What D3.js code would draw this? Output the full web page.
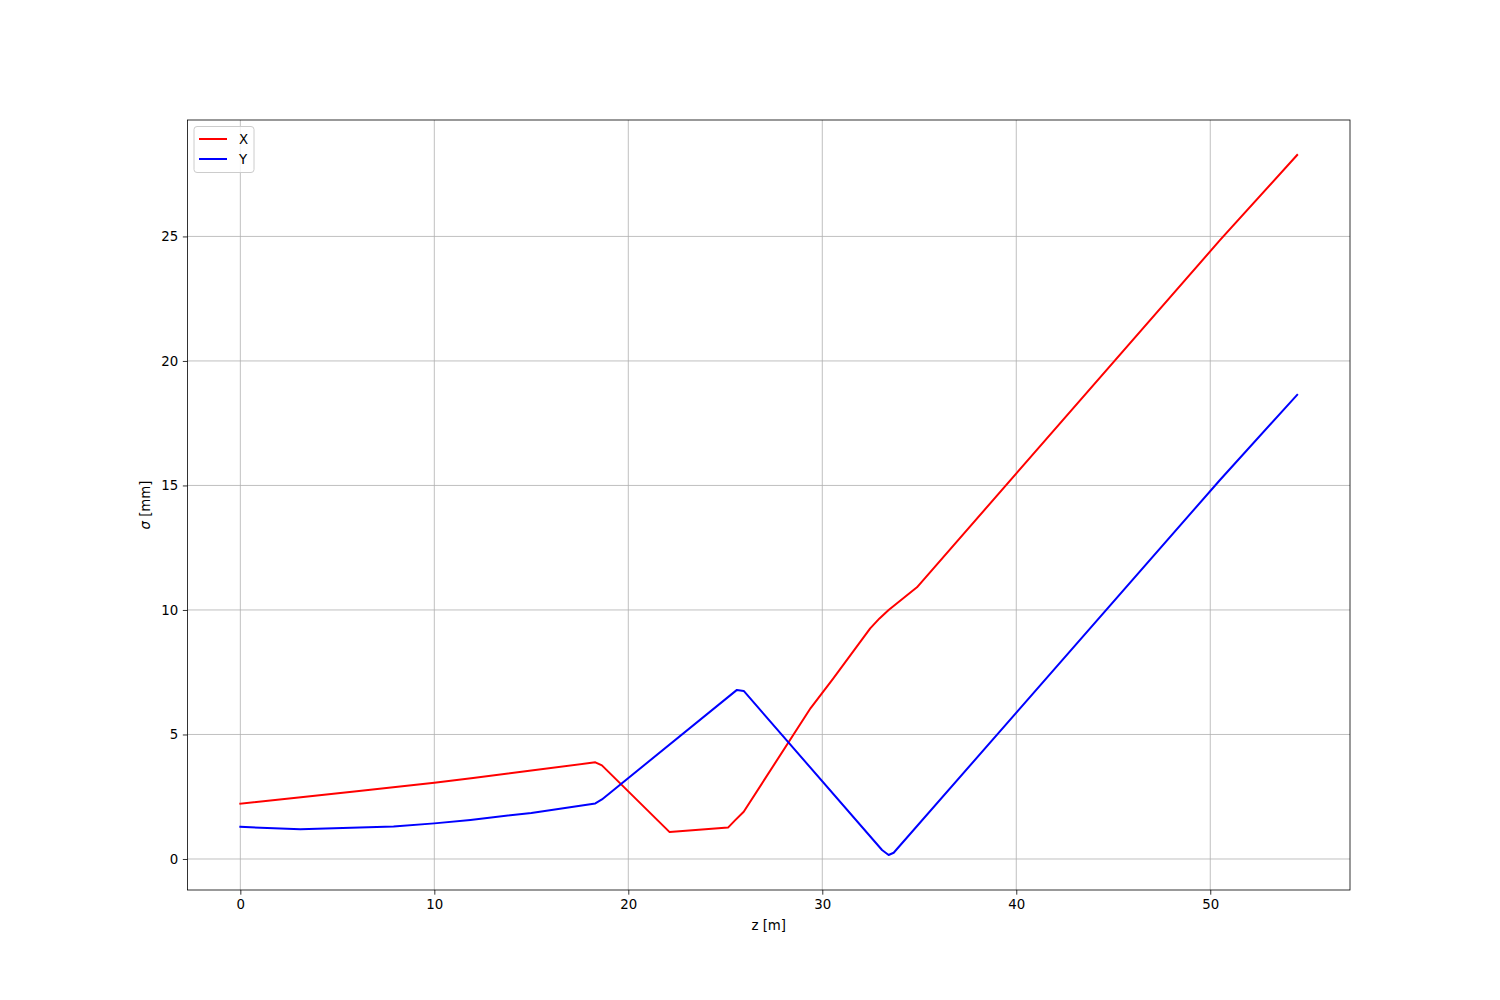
<!DOCTYPE html>
<html>
<head>
<meta charset="utf-8">
<script src="https://cdn.jsdelivr.net/npm/d3@7"></script>
<style>
  html, body { margin: 0; padding: 0; background: #fff; }
  svg { display: block; font-family: "DejaVu Sans", sans-serif; }
</style>
</head>
<body>
<svg id="chart" width="1500" height="1000"></svg>
<script>
// ---- data ----
const zX = [0, 3, 6, 8, 10, 12, 15, 18.3, 18.64, 22.13, 25.14, 25.5, 25.95, 29.4, 30.55, 32.47, 32.95, 33.42, 34.88, 50.5, 54.48];
const sigmaX = [2.22, 2.47, 2.72, 2.89, 3.06, 3.25, 3.55, 3.88, 3.76, 1.08, 1.26, 1.55, 1.9, 6.06, 7.23, 9.26, 9.66, 10.0, 10.91, 24.85, 28.27];
const zY = [0, 3.09, 7.9, 10, 11.86, 15, 18.3, 18.64, 25.6, 25.95, 33.08, 33.42, 33.68, 50.5, 54.48];
const sigmaY = [1.29, 1.19, 1.3, 1.43, 1.57, 1.85, 2.23, 2.39, 6.79, 6.75, 0.36, 0.16, 0.25, 15.22, 18.64];
const xTicks = [0, 10, 20, 30, 40, 50];
const yTicks = [0, 5, 10, 15, 20, 25];
const seriesNames = ["X", "Y"];
const seriesColors = ["red", "blue"];

const W = 1500, H = 1000;
const L = 187.5, R = 1350, T = 120, B = 890;
const svg = d3.select("#chart");

const allZ = zX.concat(zY), allS = sigmaX.concat(sigmaY);
const zmin = d3.min(allZ), zmax = d3.max(allZ);
const smin = d3.min(allS), smax = d3.max(allS);
const zpad = (zmax - zmin) * 0.05, spad = (smax - smin) * 0.05;

const x = d3.scaleLinear().domain([zmin - zpad, zmax + zpad]).range([L, R]);
const y = d3.scaleLinear().domain([smin - spad, smax + spad]).range([B, T]);

// grid
const grid = svg.append("g");
grid.selectAll(".gx").data(xTicks).enter().append("line")
  .attr("x1", d => x(d)).attr("x2", d => x(d)).attr("y1", T).attr("y2", B)
  .attr("stroke", "#b0b0b0").attr("stroke-width", 0.8);
grid.selectAll(".gy").data(yTicks).enter().append("line")
  .attr("y1", d => y(d)).attr("y2", d => y(d)).attr("x1", L).attr("x2", R)
  .attr("stroke", "#b0b0b0").attr("stroke-width", 0.8);

// lines
const line = d3.line().x(d => x(d[0])).y(d => y(d[1]));
const seriesData = [d3.zip(zX, sigmaX), d3.zip(zY, sigmaY)];
svg.append("clipPath").attr("id", "clip").append("rect")
  .attr("x", L).attr("y", T).attr("width", R - L).attr("height", B - T);
seriesData.forEach((s, i) => {
  svg.append("path").datum(s).attr("d", line)
    .attr("fill", "none").attr("stroke", seriesColors[i]).attr("stroke-width", 2)
    .attr("stroke-linejoin", "round").attr("stroke-linecap", "square")
    .attr("clip-path", "url(#clip)");
});

// axes
const tk = 3.5 * 4 / 3;
const xAxis = d3.axisBottom(x).tickValues(xTicks).tickSize(tk).tickPadding(tk).tickFormat(d3.format("d"));
const yAxis = d3.axisLeft(y).tickValues(yTicks).tickSize(tk).tickPadding(tk).tickFormat(d3.format("d"));
const gx = svg.append("g").attr("transform", `translate(0,${B})`).call(xAxis);
const gy = svg.append("g").attr("transform", `translate(${L},0)`).call(yAxis);
[gx, gy].forEach(g => {
  g.select(".domain").remove();
  g.selectAll(".tick line").attr("stroke", "#000").attr("stroke-width", 0.8);
  g.selectAll(".tick text").attr("fill", "#000").style("font-size", "13.33px")
    .style("font-family", "DejaVu Sans, sans-serif");
});

// spines
svg.append("rect").attr("x", L).attr("y", T).attr("width", R - L).attr("height", B - T)
  .attr("fill", "none").attr("stroke", "#000").attr("stroke-width", 0.8);

// labels
svg.append("text").attr("x", (L + R) / 2).attr("y", 930)
  .attr("text-anchor", "middle").style("font-size", "13.33px").text("z [m]");
const yl = svg.append("text").attr("transform", `translate(150,${(T + B) / 2}) rotate(-90)`)
  .attr("text-anchor", "middle").style("font-size", "13.33px");
yl.append("tspan").style("font-style", "italic").text("σ");
yl.append("tspan").text(" [mm]");

// legend
const lg = svg.append("g").attr("transform", `translate(${L + 6.5},${T + 6.5})`);
lg.append("rect").attr("width", 60).attr("height", 46).attr("rx", 3)
  .attr("fill", "#fff").attr("fill-opacity", 0.8).attr("stroke", "#ccc").attr("stroke-width", 1);
seriesNames.forEach((n, i) => {
  const yy = 12.5 + i * 20;
  lg.append("line").attr("x1", 5).attr("x2", 33).attr("y1", yy).attr("y2", yy)
    .attr("stroke", seriesColors[i]).attr("stroke-width", 2);
  lg.append("text").attr("x", 45).attr("y", yy + 5).style("font-size", "13.33px").text(n);
});
</script>
</body>
</html>
